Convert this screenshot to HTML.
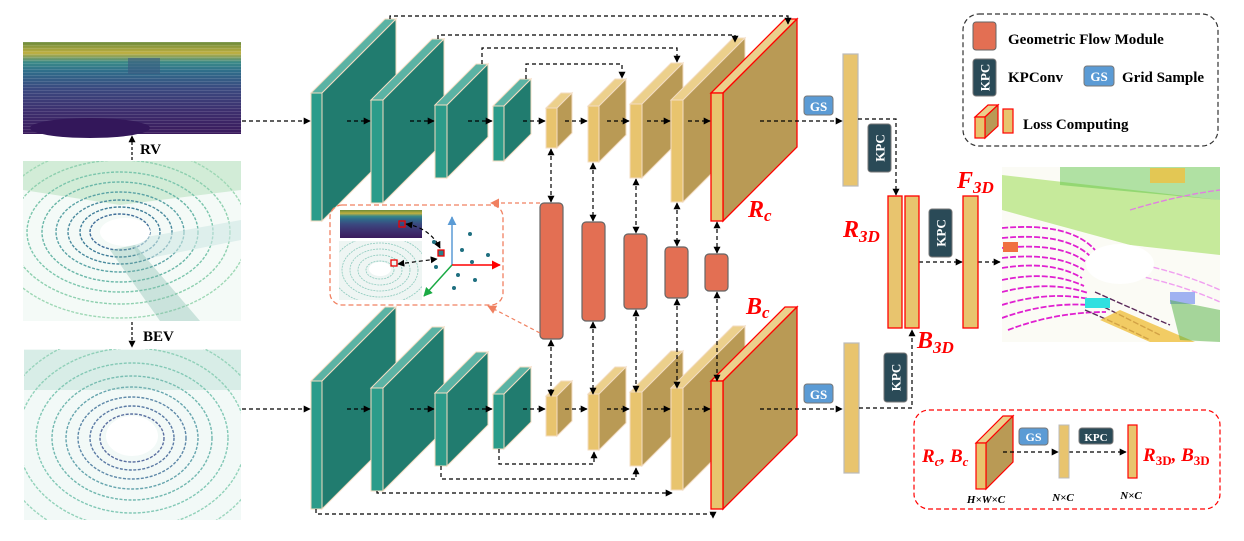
<!DOCTYPE html>
<html><head><meta charset="utf-8"><style>
html,body{margin:0;padding:0;background:#fff;}
svg{display:block;}
text{font-family:"Liberation Serif",serif;}
.lbl{font-weight:bold;font-style:italic;fill:#f00;}
.bt{font-weight:bold;fill:#000;}
</style></head><body>
<svg width="1244" height="541" viewBox="0 0 1244 541" xmlns="http://www.w3.org/2000/svg">
<defs>
<marker id="ah" viewBox="0 0 10 10" refX="9" refY="5" markerWidth="7" markerHeight="7" orient="auto-start-reverse" markerUnits="userSpaceOnUse"><path d="M0,0L10,5L0,10z" fill="#000"/></marker>
<marker id="ao" viewBox="0 0 10 10" refX="9" refY="5" markerWidth="9" markerHeight="9" orient="auto" markerUnits="userSpaceOnUse"><path d="M0,0L10,5L0,10z" fill="#f08060"/></marker>
<marker id="ar" viewBox="0 0 10 10" refX="9" refY="5" markerWidth="9" markerHeight="9" orient="auto" markerUnits="userSpaceOnUse"><path d="M0,0L10,5L0,10z" fill="#f00"/></marker>
<marker id="ab" viewBox="0 0 10 10" refX="9" refY="5" markerWidth="9" markerHeight="9" orient="auto" markerUnits="userSpaceOnUse"><path d="M0,0L10,5L0,10z" fill="#5b9bd5"/></marker>
<marker id="ag" viewBox="0 0 10 10" refX="9" refY="5" markerWidth="9" markerHeight="9" orient="auto" markerUnits="userSpaceOnUse"><path d="M0,0L10,5L0,10z" fill="#1aaa44"/></marker>
<linearGradient id="rvg" x1="0" y1="0" x2="0" y2="1">
<stop offset="0" stop-color="#6a8a3a"/><stop offset="0.12" stop-color="#c0b040"/><stop offset="0.22" stop-color="#3a8a88"/><stop offset="0.32" stop-color="#2f6d8a"/><stop offset="0.5" stop-color="#3a4a80"/><stop offset="0.75" stop-color="#3d2f6e"/><stop offset="1" stop-color="#3a1a5c"/></linearGradient>
<pattern id="hl" width="4" height="3" patternUnits="userSpaceOnUse"><rect width="4" height="1" fill="#fff" opacity="0.12"/></pattern>
<clipPath id="c1"><rect x="23" y="161" width="218" height="160"/></clipPath>
<clipPath id="c2"><rect x="24" y="349" width="217" height="171"/></clipPath>
<clipPath id="c3"><rect x="339" y="241" width="83" height="59"/></clipPath>
<clipPath id="c4"><rect x="1002" y="167" width="218" height="175"/></clipPath>
<g id="row">
 <g stroke="#f3dcc2" stroke-width="1">
  <polygon points="311,93 322,93 396,19 385,19" fill="#5bb3a4"/><polygon points="322,93 396,19 396,147 322,221" fill="#217c6f"/><rect x="311" y="93" width="11" height="128" fill="#2c9c8a"/>
  <polygon points="371,100 383,100 444,39 432,39" fill="#5bb3a4"/><polygon points="383,100 444,39 444,142 383,203" fill="#217c6f"/><rect x="371" y="100" width="12" height="103" fill="#2c9c8a"/>
  <polygon points="435,105 447,105 488,64 476,64" fill="#5bb3a4"/><polygon points="447,105 488,64 488,137 447,178" fill="#217c6f"/><rect x="435" y="105" width="12" height="73" fill="#2c9c8a"/>
  <polygon points="493,106 504,106 531,79 520,79" fill="#5bb3a4"/><polygon points="504,106 531,79 531,134 504,161" fill="#217c6f"/><rect x="493" y="106" width="11" height="55" fill="#2c9c8a"/>
  <polygon points="546,108 557,108 572,93 561,93" fill="#ecd08c"/><polygon points="557,108 572,93 572,133 557,148" fill="#b99a55"/><rect x="546" y="108" width="11" height="40" fill="#e8c46e"/>
  <polygon points="588,106 599,106 626,79 615,79" fill="#ecd08c"/><polygon points="599,106 626,79 626,135 599,162" fill="#b99a55"/><rect x="588" y="106" width="11" height="56" fill="#e8c46e"/>
  <polygon points="630,104 642,104 683,63 671,63" fill="#ecd08c"/><polygon points="642,104 683,63 683,137 642,178" fill="#b99a55"/><rect x="630" y="104" width="12" height="74" fill="#e8c46e"/>
  <polygon points="671,100 683,100 745,38 733,38" fill="#ecd08c"/><polygon points="683,100 745,38 745,140 683,202" fill="#b99a55"/><rect x="671" y="100" width="12" height="102" fill="#e8c46e"/>
 </g>
 <g stroke="#f00" stroke-width="1.3">
  <polygon points="711,93 723,93 797,19 785,19" fill="#ecd08c"/><polygon points="723,93 797,19 797,147 723,221" fill="#b99a55"/><rect x="711" y="93" width="12" height="128" fill="#e8c46e"/>
 </g>
 <g stroke="#000" stroke-width="1.3" stroke-dasharray="4,3" fill="none" marker-end="url(#ah)">
  <line x1="242" y1="121" x2="310" y2="121"/>
  <line x1="347" y1="121" x2="370" y2="121"/>
  <line x1="410" y1="121" x2="434" y2="121"/>
  <line x1="468" y1="121" x2="492" y2="121"/>
  <line x1="523" y1="121" x2="545" y2="121"/>
  <line x1="565" y1="121" x2="587" y2="121"/>
  <line x1="607" y1="121" x2="629" y2="121"/>
  <line x1="647" y1="121" x2="670" y2="121"/>
  <line x1="688" y1="121" x2="710" y2="121"/>
  <line x1="760" y1="121" x2="842" y2="121"/>
 </g>
 <rect x="804" y="96" width="29" height="19" rx="3" fill="#5b9bd5" stroke="#777"/>
 <text x="818.5" y="111" font-size="13" font-weight="bold" fill="#fff" text-anchor="middle">GS</text>
</g>
</defs>

<use href="#row"/>
<use href="#row" transform="translate(0,288)"/>

<g stroke="#000" stroke-width="1.2" stroke-dasharray="4,3" fill="none" marker-end="url(#ah)">
 <polyline points="390,19 390,16 788,16 788,24"/>
 <polyline points="438,39 438,35 735,35 735,42"/>
 <polyline points="482,64 482,48 677,48 677,62"/>
 <polyline points="526,79 526,64 622,64 622,78"/>
 <polyline points="499,449 499,464 594,464 594,452"/>
 <polyline points="441,466 441,479 636,479 636,468"/>
 <polyline points="377,491 377,493 672,493"/>
 <polyline points="316,509 316,514 713,514 713,518"/>
 <line x1="551" y1="149" x2="551" y2="202" marker-start="url(#ah)"/>
 <line x1="551" y1="340" x2="551" y2="396" marker-start="url(#ah)"/>
 <line x1="593" y1="163" x2="593" y2="221" marker-start="url(#ah)"/>
 <line x1="593" y1="322" x2="593" y2="394" marker-start="url(#ah)"/>
 <line x1="636" y1="179" x2="636" y2="233" marker-start="url(#ah)"/>
 <line x1="636" y1="310" x2="636" y2="392" marker-start="url(#ah)"/>
 <line x1="677" y1="203" x2="677" y2="246" marker-start="url(#ah)"/>
 <line x1="677" y1="299" x2="677" y2="388" marker-start="url(#ah)"/>
 <line x1="717" y1="222" x2="717" y2="253" marker-start="url(#ah)"/>
 <line x1="717" y1="292" x2="717" y2="381" marker-start="url(#ah)"/>
</g>

<g fill="#e36f53" stroke="#666" stroke-width="1.2">
 <rect x="540" y="203" width="23" height="136" rx="4"/>
 <rect x="582" y="222" width="23" height="99" rx="4"/>
 <rect x="624" y="234" width="23" height="75" rx="4"/>
 <rect x="665" y="247" width="23" height="51" rx="4"/>
 <rect x="705" y="254" width="23" height="37" rx="4"/>
</g>

<text x="748" y="217" class="lbl" font-size="24">R<tspan font-size="17" dy="4">c</tspan></text>
<text x="746" y="314" class="lbl" font-size="24">B<tspan font-size="17" dy="4">c</tspan></text>

<!-- inset -->
<rect x="330" y="205" width="173" height="100" rx="12" fill="none" stroke="#f08060" stroke-width="1.3" stroke-dasharray="5,3"/>
<line x1="540" y1="203" x2="491" y2="203" stroke="#f08060" stroke-width="1.2" stroke-dasharray="4,3" marker-end="url(#ao)"/>
<line x1="540" y1="333" x2="488" y2="306" stroke="#f08060" stroke-width="1.2" stroke-dasharray="4,3" marker-end="url(#ao)"/>
<rect x="340" y="210" width="82" height="28" fill="url(#rvg)"/>
<rect x="339" y="241" width="83" height="59" fill="#eef5f3"/>
<g fill="none" stroke="#8ccabd" stroke-width="0.8" stroke-dasharray="2,1" clip-path="url(#c3)">
 <ellipse cx="380" cy="270" rx="14" ry="9"/><ellipse cx="380" cy="270" rx="22" ry="15"/><ellipse cx="380" cy="270" rx="30" ry="21"/><ellipse cx="380" cy="270" rx="38" ry="27"/><ellipse cx="380" cy="270" rx="48" ry="34"/>
</g>
<ellipse cx="380" cy="269" rx="11" ry="7" fill="#fff"/>
<rect x="399" y="221" width="6" height="6" fill="none" stroke="#e00" stroke-width="1.3"/>
<rect x="391" y="260" width="6" height="6" fill="none" stroke="#e00" stroke-width="1.3"/>
<rect x="438" y="250" width="6" height="6" fill="#2a7f8a" stroke="#e00" stroke-width="1.3"/>
<g stroke="#000" stroke-width="1.2" stroke-dasharray="4,3" fill="none">
 <path d="M406,224 Q430,228 440,248" marker-end="url(#ah)" marker-start="url(#ah)"/>
 <line x1="398" y1="264" x2="437" y2="259" marker-end="url(#ah)" marker-start="url(#ah)"/>
</g>
<line x1="452" y1="265" x2="452" y2="217" stroke="#5b9bd5" stroke-width="1.5" marker-end="url(#ab)"/>
<line x1="452" y1="265" x2="500" y2="265" stroke="#f00" stroke-width="1.5" marker-end="url(#ar)"/>
<line x1="452" y1="265" x2="424" y2="296" stroke="#1aaa44" stroke-width="1.5" marker-end="url(#ag)"/>
<g fill="#1f6f80">
 <circle cx="470" cy="234" r="2"/><circle cx="462" cy="250" r="2"/><circle cx="488" cy="255" r="2"/><circle cx="472" cy="262" r="2"/><circle cx="434" cy="242" r="2"/><circle cx="436" cy="267" r="2"/><circle cx="458" cy="275" r="2"/><circle cx="475" cy="280" r="2"/><circle cx="454" cy="288" r="2"/>
</g>

<!-- input images -->
<rect x="23" y="42" width="218" height="92" fill="url(#rvg)"/>
<rect x="23" y="42" width="218" height="92" fill="url(#hl)"/>
<rect x="128" y="58" width="32" height="16" fill="#3a5a80" opacity="0.6"/>
<ellipse cx="90" cy="128" rx="60" ry="10" fill="#33175a"/>

<g clip-path="url(#c1)">
 <rect x="23" y="161" width="218" height="160" fill="#f4faf7"/>
 <polygon points="23,161 241,161 241,190 120,205 23,190" fill="#a8dcb0" opacity="0.45"/>
 <g fill="none" stroke-dasharray="3,1.5" stroke-width="1.4">
  <ellipse cx="120" cy="232" rx="30" ry="18" stroke="#3e6d98"/>
  <ellipse cx="120" cy="232" rx="40" ry="25" stroke="#3e7d98"/>
  <ellipse cx="120" cy="232" rx="52" ry="32" stroke="#4a8b9e"/>
  <ellipse cx="120" cy="232" rx="64" ry="40" stroke="#5aa3a5"/>
  <ellipse cx="120" cy="232" rx="78" ry="50" stroke="#6ab7a8"/>
  <ellipse cx="120" cy="232" rx="93" ry="60" stroke="#7cc6ad"/>
  <ellipse cx="120" cy="232" rx="110" ry="72" stroke="#8fd0b0"/>
  <ellipse cx="120" cy="232" rx="128" ry="86" stroke="#9fd8b6"/>
 </g>
 <polygon points="130,240 241,220 241,240 140,260" fill="#cfe8e4" opacity="0.6"/>
 <polygon points="110,250 160,321 200,321 135,245" fill="#7cb8a8" opacity="0.35"/>
 <ellipse cx="125" cy="232" rx="25" ry="14" fill="#fff"/>
</g>
<g clip-path="url(#c2)">
 <rect x="24" y="349" width="217" height="171" fill="#f2f9f7"/>
 <g fill="none" stroke-dasharray="3,1.5" stroke-width="1.4">
  <ellipse cx="132" cy="438" rx="32" ry="24" stroke="#5a6fa0"/>
  <ellipse cx="132" cy="438" rx="42" ry="32" stroke="#5a7aa4"/>
  <ellipse cx="132" cy="438" rx="54" ry="41" stroke="#5d88a8"/>
  <ellipse cx="132" cy="438" rx="66" ry="51" stroke="#66a5ae"/>
  <ellipse cx="132" cy="438" rx="80" ry="62" stroke="#72b8b0"/>
  <ellipse cx="132" cy="438" rx="96" ry="75" stroke="#82c8b6"/>
  <ellipse cx="132" cy="438" rx="114" ry="90" stroke="#92d2ba"/>
  <ellipse cx="132" cy="438" rx="134" ry="106" stroke="#9cd6be"/>
 </g>
 <rect x="24" y="350" width="217" height="40" fill="#8ccab8" opacity="0.25"/>
 <ellipse cx="132" cy="436" rx="26" ry="20" fill="#fff"/>
</g>
<g stroke="#000" stroke-width="1.2" stroke-dasharray="3,2" fill="none" marker-end="url(#ah)">
 <line x1="132" y1="160" x2="132" y2="136"/>
 <line x1="132" y1="322" x2="132" y2="347"/>
</g>
<text x="140" y="154" class="bt" font-size="15">RV</text>
<text x="143" y="341" class="bt" font-size="15">BEV</text>

<!-- right side -->
<g fill="#e8c46e" stroke="#bbb" stroke-width="1.2">
 <rect x="843" y="54" width="15" height="132"/>
 <rect x="844" y="343" width="15" height="130"/>
</g>
<g stroke="#000" stroke-width="1.2" stroke-dasharray="4,3" fill="none" marker-end="url(#ah)">
 <polyline points="858,119 896,119 896,195"/>
 <polyline points="859,408 912,408 912,330"/>
 <line x1="919" y1="262" x2="962" y2="262"/>
 <line x1="978" y1="262" x2="1000" y2="262"/>
</g>
<g fill="#2a4a57" stroke="#777" stroke-width="1">
 <rect x="868" y="124" width="23" height="48" rx="3"/>
 <rect x="884" y="353" width="23" height="49" rx="3"/>
 <rect x="929" y="209" width="23" height="48" rx="3"/>
</g>
<g fill="#fff" font-size="13" font-weight="bold" text-anchor="middle">
 <text transform="translate(884.5,148) rotate(-90)">KPC</text>
 <text transform="translate(900.5,377.5) rotate(-90)">KPC</text>
 <text transform="translate(945.5,233) rotate(-90)">KPC</text>
</g>
<g fill="#e8c46e" stroke="#f00" stroke-width="1.3">
 <rect x="888" y="196" width="14" height="132"/>
 <rect x="905" y="196" width="14" height="132"/>
 <rect x="963" y="196" width="15" height="132"/>
</g>
<text x="843" y="237" class="lbl" font-size="24">R<tspan font-size="17" dy="5">3D</tspan></text>
<text x="917" y="348" class="lbl" font-size="24">B<tspan font-size="17" dy="5">3D</tspan></text>
<text x="957" y="188" class="lbl" font-size="24">F<tspan font-size="17" dy="5">3D</tspan></text>

<!-- output image -->
<g clip-path="url(#c4)">
 <rect x="1002" y="167" width="218" height="175" fill="#fbfbf5"/>
 <polygon points="1002,175 1220,200 1220,255 1130,245 1002,210" fill="#b4e47c" opacity="0.75"/>
 <polygon points="1060,167 1220,167 1220,200 1060,185" fill="#55c040" opacity="0.45"/>
 <g fill="none" stroke-width="1.8" stroke-dasharray="6,2" stroke="#e020d0">
  <path d="M1002,228 Q1070,222 1095,250"/>
  <path d="M1002,238 Q1065,232 1090,256"/>
  <path d="M1002,248 Q1060,242 1086,262"/>
  <path d="M1002,258 Q1055,252 1084,270"/>
  <path d="M1002,268 Q1052,260 1082,278"/>
  <path d="M1002,280 Q1050,270 1084,286"/>
  <path d="M1002,292 Q1050,280 1088,293"/>
  <path d="M1002,305 Q1050,290 1094,300"/>
  <path d="M1002,318 Q1052,300 1100,306"/>
  <path d="M1008,330 Q1055,312 1106,312"/>
 </g>
 <g fill="none" stroke-width="1.4" stroke-dasharray="6,2">
  <path d="M1130,262 Q1180,272 1220,290" stroke="#f0a0f0"/>
  <path d="M1130,274 Q1180,284 1220,302" stroke="#f0a0f0"/>
  <path d="M1130,210 Q1180,195 1220,190" stroke="#e080e0"/>
  <path d="M1090,300 Q1130,320 1160,335" stroke="#5a2a5a"/>
  <path d="M1085,310 Q1120,325 1150,340" stroke="#5a2a5a"/>
  <path d="M1095,292 Q1135,310 1170,325" stroke="#5a2a5a"/>
 </g>
 <ellipse cx="1120" cy="264" rx="34" ry="20" fill="#fff"/>
 <polygon points="1100,320 1150,342 1195,342 1120,310" fill="#f0c040" opacity="0.8"/>
 <rect x="1085" y="298" width="25" height="10" fill="#30e0e0"/>
 <rect x="1170" y="292" width="25" height="12" fill="#8aa0f0" opacity="0.8"/>
 <rect x="1150" y="168" width="35" height="15" fill="#f0c040" opacity="0.8"/>
 <rect x="1003" y="242" width="15" height="10" fill="#f07040"/>
 <polygon points="1170,300 1220,310 1220,342 1180,340" fill="#50b040" opacity="0.5"/>
</g>

<!-- top legend -->
<rect x="963" y="14" width="255" height="132" rx="16" fill="none" stroke="#333" stroke-width="1.2" stroke-dasharray="5,3"/>
<rect x="973" y="22" width="23" height="28" rx="3" fill="#e36f53" stroke="#666"/>
<text x="1008" y="44" class="bt" font-size="15">Geometric Flow Module</text>
<rect x="973" y="59" width="23" height="37" rx="3" fill="#2a4a57" stroke="#777"/>
<text transform="translate(989.5,77.5) rotate(-90)" font-size="13" font-weight="bold" fill="#fff" text-anchor="middle">KPC</text>
<text x="1008" y="82" class="bt" font-size="15">KPConv</text>
<rect x="1084" y="66" width="30" height="20" rx="3" fill="#5b9bd5" stroke="#777"/>
<text x="1099" y="81" font-size="13" font-weight="bold" fill="#fff" text-anchor="middle">GS</text>
<text x="1122" y="82" class="bt" font-size="15">Grid Sample</text>
<g stroke="#f00" stroke-width="1.2">
 <polygon points="975,117 985,117 998,105 988,105" fill="#ecd08c"/><polygon points="985,117 998,105 998,126 985,138" fill="#b99a55"/><rect x="975" y="117" width="10" height="21" fill="#e8c46e"/>
 <rect x="1003" y="109" width="10" height="24" fill="#e8c46e"/>
</g>
<text x="1023" y="129" class="bt" font-size="15">Loss Computing</text>

<!-- bottom legend -->
<rect x="914" y="410" width="306" height="99" rx="15" fill="none" stroke="#f00" stroke-width="1.2" stroke-dasharray="5,3"/>
<text x="922" y="462" class="lbl" font-size="19">R<tspan font-size="13" dy="4">c</tspan><tspan dy="-4">, B</tspan><tspan font-size="13" dy="4">c</tspan></text>
<g stroke="#f00" stroke-width="1.2">
 <polygon points="976,443 986,443 1013,416 1003,416" fill="#ecd08c"/><polygon points="986,443 1013,416 1013,462 986,489" fill="#b99a55"/><rect x="976" y="443" width="10" height="46" fill="#e8c46e"/>
</g>
<g stroke="#000" stroke-width="1.2" stroke-dasharray="4,3" fill="none" marker-end="url(#ah)">
 <line x1="1003" y1="452" x2="1058" y2="452"/>
 <line x1="1069" y1="452" x2="1126" y2="452"/>
</g>
<rect x="1019" y="428" width="29" height="17" rx="3" fill="#5b9bd5" stroke="#777"/>
<text x="1033.5" y="441" font-size="12" font-weight="bold" fill="#fff" text-anchor="middle">GS</text>
<rect x="1059" y="425" width="10" height="53" fill="#e8c46e" stroke="#bbb"/>
<rect x="1079" y="428" width="34" height="16" rx="3" fill="#2a4a57" stroke="#777"/>
<text x="1096" y="441" font-size="11" font-weight="bold" fill="#fff" text-anchor="middle">KPC</text>
<rect x="1128" y="425" width="9" height="53" fill="#e8c46e" stroke="#f00" stroke-width="1.2"/>
<text x="1143" y="461" class="lbl" font-size="19">R<tspan font-size="13" dy="4" font-style="normal">3D</tspan><tspan dy="-4">, B</tspan><tspan font-size="13" dy="4" font-style="normal">3D</tspan></text>
<g font-size="11" font-weight="bold" font-style="italic" text-anchor="middle">
 <text x="986" y="503">H×W×C</text>
 <text x="1063" y="501">N×C</text>
 <text x="1131" y="499">N×C</text>
</g>
</svg>
</body></html>
